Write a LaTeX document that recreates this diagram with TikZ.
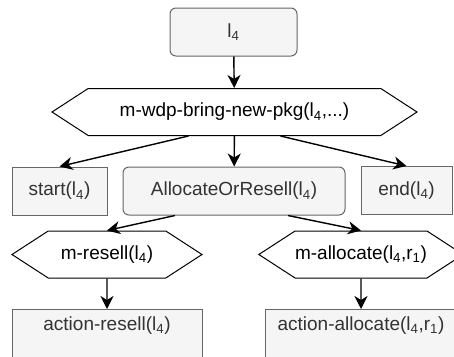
\documentclass[tikz,border=0pt]{standalone}
\usepackage{fontspec}
\setmainfont{Liberation Sans}
\usetikzlibrary{positioning}
\usetikzlibrary{shapes.symbols}
\usetikzlibrary{arrows.meta}
\definecolor{boxfill}{HTML}{F5F5F5}
\definecolor{boxline}{HTML}{666666}
\definecolor{boxtext}{HTML}{333333}

\begin{document}
\begin{tikzpicture}[
        x = 1pt, y = -1pt,
        every node/.style = {font=\fontsize{19}{22}\selectfont},
        box/.style = {
            draw=boxline,
            fill=boxfill,
            text=boxtext,
            line width=1pt,
            minimum width=#1,
            minimum height=48pt,
            inner sep=0pt
        },
        box/.default = 95pt,
        rbox/.style = {box=#1, rounded corners=6pt},
        actbox/.style = {box=#1, anchor=north, text height=21pt, text depth=40pt},
        hexa/.style = {
            draw,
            fill=white,
            line width=1pt,
            signal,
            signal to=east and west,
            signal pointer angle=66,
            minimum width=#1,
            minimum height=47pt,
            inner sep=0pt
        },
        arr/.style = {-{Stealth[length=13pt, width=13pt, inset=4pt]}, line width=1.4pt}
        ]
%
        \useasboundingbox (0,0) rectangle (454,356);
        \clip (0,0) rectangle (454,356);
%
        \node[rbox=127pt] (l4) at (233.5,32) {l\textsubscript{4}};
        \node[hexa=365pt] (wdp) at (234.5,112) {m-wdp-bring-new-pkg(l\textsubscript{4},...)};
%
        \node[box=95pt] (start) at (59.5,191) {start(l\textsubscript{4})};
        \node[rbox=222pt] (aor) at (234,191) {AllocateOrResell(l\textsubscript{4})};
        \node[box=91pt] (end) at (406.5,190.5) {end(l\textsubscript{4})};
%
        \node[hexa=190pt] (resell) at (107,254.5) {m-resell(l\textsubscript{4})};
        \node[hexa=188pt] (alloc) at (361,254.5) {m-allocate(l\textsubscript{4},r\textsubscript{1})};
%
        \node[actbox=190pt] (actresell) at (107,309) {action-resell(l\textsubscript{4})};
        \node[actbox=192pt] (actalloc) at (361,309) {action-allocate(l\textsubscript{4},r\textsubscript{1})};
%
        \draw[arr] (l4) -- (wdp);
        \draw[arr] ([xshift=-46pt]wdp.south) -- (start.north);
        \draw[arr] (wdp) -- (aor);
        \draw[arr] ([xshift=46pt]wdp.south) -- (end.north);
%
        \draw[arr] ([xshift=-59pt]aor.south) -- (resell.north);
        \draw[arr] ([xshift=54pt]aor.south) -- (alloc.north);
%
        \draw[arr] (resell) -- (actresell);
        \draw[arr] (alloc) -- (actalloc);
\end{tikzpicture}
\end{document}
